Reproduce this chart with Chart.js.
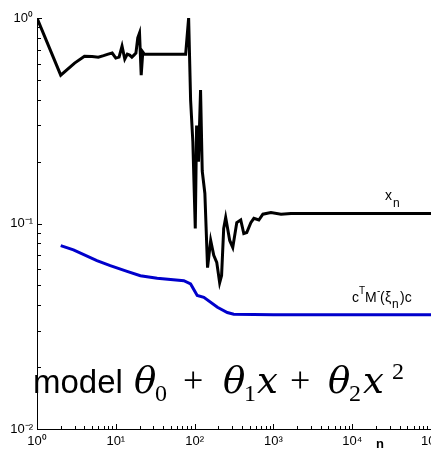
<!DOCTYPE html>
<html lang="en">
  <head>
    <meta charset="UTF-8" />
    <title>model convergence</title>
    <script src="https://cdn.jsdelivr.net/npm/chart.js"></script>
    <style>
      html, body { margin: 0; padding: 0; background: #fff; }
      canvas { display: block; }
    </style>
  </head>
  <body>
    <canvas id="chart" width="431" height="455"></canvas>
    <script>
      // x_n (black)
      const nBlack = [1, 2, 3, 4, 5, 6, 7, 8, 9, 10, 11, 12, 13, 14, 15, 16, 17, 18, 19, 20, 21, 22, 23, 40, 77,
        84, 89, 95, 102, 106, 112, 119, 125, 135, 146, 160, 175, 191, 208, 220, 234, 248, 279, 305, 343,
        385, 421, 459, 517, 565, 654, 735, 930, 1250, 1670, 3000, 100000];
      const xnValues = [1, 0.527, 0.603, 0.652, 0.649, 0.645, 0.656, 0.667, 0.675, 0.638, 0.645, 0.73, 0.631,
        0.667, 0.66, 0.645, 0.66, 0.675, 0.8, 0.845, 0.527, 0.683, 0.667, 0.667, 0.667,
        1.0, 0.398, 0.25, 0.0947, 0.3, 0.2, 0.446, 0.18, 0.14, 0.061, 0.0827, 0.07, 0.0647, 0.0515, 0.0558,
        0.0947, 0.107, 0.0827, 0.0764, 0.101, 0.104, 0.0894, 0.0904, 0.101, 0.106, 0.104, 0.111, 0.113,
        0.111, 0.112, 0.112, 0.112];

      // c^T M^-(xi_n) c (blue)
      const nBlue = [2, 2.9, 5.76, 8.5, 13.9, 20.5, 33.5, 73, 89, 108, 131, 195, 260, 314, 1000, 100000];
      const critValues = [0.0781, 0.0744, 0.066, 0.0624, 0.0585, 0.0557, 0.0541, 0.0527, 0.0508, 0.0446,
        0.0437, 0.0391, 0.0369, 0.0362, 0.036, 0.036];

      const xTickLabels = { 0: "10\u2070", 1: "10\u00b9", 2: "10\u00b2", 3: "10\u00b3", 4: "10\u2074", 5: "10\u2075" };
      const yTickLabels = { "-2": "10\u207b\u00b2", "-1": "10\u207b\u00b9", 0: "10\u2070" };

      function decadeLabel(labels) {
        return (value) => {
          const e = Math.round(Math.log10(value));
          if (Math.abs(Math.log10(value) - e) > 1e-9) return "";
          return labels[e] !== undefined ? labels[e] : "";
        };
      }

      // only 1..9 times a power of ten get a tick mark
      function tickKind(v) {
        const e = Math.floor(Math.log10(v) + 1e-9);
        const m = v / Math.pow(10, e);
        if (Math.abs(m - Math.round(m)) > 1e-6) return 0;
        return Math.round(m) === 1 ? 2 : 1;
      }

      // matlab style ticks pointing into the plot
      const inwardTicks = {
        id: "inwardTicks",
        afterDraw(chart) {
          const { ctx, chartArea } = chart;
          const sx = chart.scales.x;
          const sy = chart.scales.y;
          ctx.save();
          ctx.strokeStyle = "#000";
          ctx.lineWidth = 1;
          ctx.beginPath();
          sx.getTicks().forEach((t) => {
            const k = tickKind(t.value);
            if (!k) return;
            const px = Math.round(sx.getPixelForValue(t.value)) + 0.5;
            ctx.moveTo(px, chartArea.bottom);
            ctx.lineTo(px, chartArea.bottom - (k === 2 ? 5 : 3));
          });
          sy.getTicks().forEach((t) => {
            const k = tickKind(t.value);
            if (!k) return;
            const py = Math.round(sy.getPixelForValue(t.value)) + 0.5;
            ctx.moveTo(chartArea.left, py);
            ctx.lineTo(chartArea.left + (k === 2 ? 5 : 4), py);
          });
          ctx.stroke();
          ctx.restore();
        },
      };

      const annotations = {
        id: "annotations",
        afterDraw(chart) {
          const ctx = chart.ctx;
          ctx.save();
          ctx.fillStyle = "#000";
          ctx.textAlign = "left";
          ctx.textBaseline = "alphabetic";

          // x_n
          ctx.font = '14px "Liberation Sans", Arial, sans-serif';
          ctx.fillText("x", 385, 200);
          ctx.font = '12px "Liberation Sans", Arial, sans-serif';
          ctx.fillText("n", 393, 207);

          // c^T M^-(xi_n) c
          ctx.font = '14px "Liberation Sans", Arial, sans-serif';
          ctx.fillText("c", 352, 302);
          ctx.font = '10px "Liberation Sans", Arial, sans-serif';
          ctx.fillText("T", 359, 294);
          ctx.font = '14px "Liberation Sans", Arial, sans-serif';
          ctx.fillText("M", 365, 302);
          ctx.font = '10px "Liberation Sans", Arial, sans-serif';
          ctx.fillText("-", 377, 294);
          ctx.font = '14px "Liberation Sans", Arial, sans-serif';
          ctx.fillText("(", 380, 302);
          ctx.fillText("\u03be", 385, 302);
          ctx.font = '12px "Liberation Sans", Arial, sans-serif';
          ctx.fillText("n", 392, 308);
          ctx.font = '14px "Liberation Sans", Arial, sans-serif';
          ctx.fillText(")c", 400, 302);

          // axis title
          ctx.font = 'bold 13px "Liberation Sans", Arial, sans-serif';
          ctx.fillText("n", 376, 448);

          // model text
          const base = 393;
          ctx.font = '33px "Liberation Sans", Arial, sans-serif';
          ctx.fillText("model", 33, base);
          const it = 'italic 37px "DejaVu Serif", serif';
          const up = '36px "Liberation Serif", serif';
          const sub = '24px "Liberation Serif", serif';
          ctx.font = it; ctx.fillText("\u03b8", 134, base);
          ctx.font = sub; ctx.fillText("0", 155, base + 8);
          ctx.font = up; ctx.fillText("+", 183, base - 1);
          ctx.font = it; ctx.fillText("\u03b8", 223, base);
          ctx.font = sub; ctx.fillText("1", 244, base + 8);
          ctx.font = it; ctx.fillText("x", 257, base);
          ctx.font = up; ctx.fillText("+", 290, base - 1);
          ctx.font = it; ctx.fillText("\u03b8", 328, base);
          ctx.font = sub; ctx.fillText("2", 349, base + 8);
          ctx.font = it; ctx.fillText("x", 363, base);
          ctx.font = sub; ctx.fillText("2", 392, base - 14);
          ctx.restore();
        },
      };

      const tickFont = { family: '"Liberation Sans", Arial, sans-serif', size: 13 };

      new Chart(document.getElementById("chart"), {
        type: "line",
        data: {
          datasets: [
            {
              label: "x_n",
              data: nBlack.map((n, i) => ({ x: n, y: xnValues[i] })),
              borderColor: "#000000",
              borderWidth: 3,
              pointRadius: 0,
              tension: 0,
            },
            {
              label: "cT M-(xi_n) c",
              data: nBlue.map((n, i) => ({ x: n, y: critValues[i] })),
              borderColor: "#0000cc",
              borderWidth: 3,
              pointRadius: 0,
              tension: 0,
            },
          ],
        },
        options: {
          responsive: false,
          animation: false,
          layout: { padding: { top: 18, right: 0, bottom: 0, left: 0 } },
          plugins: { legend: { display: false }, tooltip: { enabled: false } },
          scales: {
            x: {
              type: "logarithmic",
              min: 1,
              max: 100000,
              grid: { display: false, drawTicks: false },
              border: { display: true, color: "#000", width: 1 },
              ticks: {
                autoSkip: false,
                maxRotation: 0,
                padding: 5,
                color: "#000",
                font: tickFont,
                callback: decadeLabel(xTickLabels),
              },
              afterFit(s) {
                s.height = 26;
                s.paddingLeft = 0;
                s.paddingRight = 0;
              },
            },
            y: {
              type: "logarithmic",
              min: 0.01,
              max: 1,
              grid: { display: false, drawTicks: false },
              border: { display: true, color: "#000", width: 1 },
              ticks: {
                autoSkip: false,
                padding: 4,
                color: "#000",
                font: tickFont,
                callback: decadeLabel(yTickLabels),
              },
              afterFit(s) {
                s.width = 37;
                s.paddingTop = 0;
                s.paddingBottom = 0;
              },
            },
          },
        },
        plugins: [inwardTicks, annotations],
      });
    </script>
  </body>
</html>
